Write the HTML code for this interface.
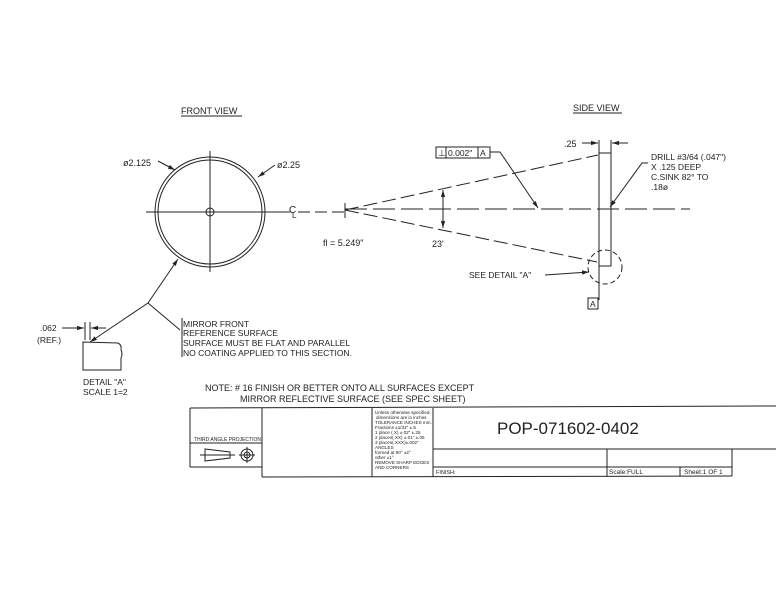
<!DOCTYPE html>
<html><head><style>
body{margin:0;background:#fff;}
svg text{font-family:"Liberation Sans",sans-serif;fill:#222;}
</style></head><body>
<svg width="776" height="600" viewBox="0 0 776 600" xmlns="http://www.w3.org/2000/svg" stroke="#222" fill="none" stroke-width="1">
<defs><marker id="a" viewBox="0 0 10 10" refX="10" refY="5" markerWidth="7" markerHeight="7" orient="auto"><path d="M0,2 L10,5 L0,8 z" fill="#222" stroke="none"/></marker></defs>
<!-- Front view -->
<text x="181" y="114" font-size="9" stroke="none">FRONT VIEW</text>
<line x1="181" y1="116" x2="242" y2="116"/>
<circle cx="210" cy="212" r="55"/>
<circle cx="210" cy="212" r="52"/>
<line x1="210" y1="151" x2="210" y2="272"/>
<line x1="146" y1="212" x2="290" y2="212"/>
<circle cx="210" cy="212" r="4"/>
<line x1="298" y1="212" x2="345" y2="212" stroke-dasharray="12,5"/>
<text x="289" y="213" font-size="10" stroke="none">C</text><text x="292" y="218" font-size="8" stroke="none">L</text>
<text x="123" y="166" font-size="9" stroke="none">ø2.125</text>
<line x1="158" y1="161" x2="175" y2="170" marker-end="url(#a)"/>
<text x="277" y="168" font-size="9" stroke="none">ø2.25</text>
<line x1="275" y1="165" x2="258" y2="177" marker-end="url(#a)"/>
<!-- leader -->
<polyline points="148,303 178,259" marker-end="url(#a)"/>
<polyline points="148,303 90,342" marker-end="url(#a)"/>
<line x1="148" y1="303" x2="180" y2="330"/>
<text x="183" y="327" font-size="8.5" stroke="none">MIRROR FRONT</text>
<text x="183" y="336" font-size="8.5" stroke="none">REFERENCE SURFACE</text>
<text x="183" y="346" font-size="8.5" stroke="none">SURFACE MUST BE FLAT AND PARALLEL</text>
<text x="183" y="356" font-size="8.5" stroke="none">NO COATING APPLIED TO THIS SECTION.</text>
<line x1="182" y1="318" x2="182" y2="357"/>
<!-- detail A -->
<text x="40" y="331" font-size="8.5" stroke="none">.062</text>
<text x="37" y="343" font-size="8.5" stroke="none">(REF.)</text>
<line x1="62" y1="328" x2="84" y2="328" marker-end="url(#a)"/><line x1="106" y1="328" x2="91" y2="328" marker-end="url(#a)"/>
<line x1="85" y1="322" x2="85" y2="340"/><line x1="90" y1="322" x2="90" y2="340"/>
<path d="M83,370 L83,342 L118,343 Q122,345 121,350 Q123,354 121,358 L121,370 Z"/>
<text x="83" y="385" font-size="8.5" stroke="none">DETAIL "A"</text>
<text x="83" y="395" font-size="8.5" stroke="none">SCALE 1=2</text>
<!-- side view -->
<text x="573" y="111" font-size="9" stroke="none">SIDE VIEW</text>
<line x1="573" y1="113" x2="622" y2="113"/>
<rect x="599" y="153" width="12" height="113"/>
<line x1="599" y1="140" x2="599" y2="153"/><line x1="611" y1="140" x2="611" y2="153"/>
<line x1="599" y1="266" x2="599" y2="300"/>
<text x="564" y="147" font-size="9" stroke="none">.25</text>
<line x1="582" y1="143" x2="598" y2="143" marker-end="url(#a)"/><line x1="628" y1="143" x2="612" y2="143" marker-end="url(#a)"/>
<line x1="345" y1="203" x2="345" y2="218"/>
<line x1="345" y1="210" x2="598" y2="155" stroke-dasharray="14,5"/>
<line x1="345" y1="210" x2="597" y2="262" stroke-dasharray="14,5"/>
<line x1="345" y1="209" x2="690" y2="209" stroke-dasharray="22,6"/>
<line x1="443" y1="210" x2="443" y2="190" marker-end="url(#a)"/>
<line x1="443" y1="210" x2="443" y2="228" marker-end="url(#a)"/>
<text x="432" y="247" font-size="9" stroke="none">23'</text>
<text x="323" y="246" font-size="9" stroke="none">fl = 5.249"</text>
<rect x="436" y="147" width="10" height="11"/><rect x="446" y="147" width="32" height="11"/><rect x="478" y="147" width="12" height="11"/>
<text x="438" y="156" font-size="9" stroke="none">⊥</text>
<text x="448" y="156" font-size="8.5" stroke="none">0.002"</text>
<text x="480" y="156" font-size="8.5" stroke="none">A</text>
<polyline points="490,152 500,152 538,208" marker-end="url(#a)"/>
<circle cx="605" cy="267" r="17" stroke-dasharray="5,3"/>
<text x="469" y="278" font-size="8.5" stroke="none">SEE DETAIL "A"</text>
<line x1="545" y1="275" x2="589" y2="272" marker-end="url(#a)"/>
<rect x="588" y="298" width="10" height="11"/>
<text x="590" y="307" font-size="8.5" stroke="none">A</text>
<text x="651" y="160" font-size="8.5" stroke="none">DRILL #3/64 (.047")</text>
<text x="651" y="170" font-size="8.5" stroke="none">X .125 DEEP</text>
<text x="651" y="180" font-size="8.5" stroke="none">C.SINK 82° TO</text>
<text x="651" y="190" font-size="8.5" stroke="none">.18ø</text>
<polyline points="648,163 642,163 610,207" marker-end="url(#a)"/>
<!-- note -->
<text x="205" y="391" font-size="9" stroke="none">NOTE: # 16 FINISH OR BETTER ONTO ALL SURFACES EXCEPT</text>
<text x="240" y="402" font-size="9" stroke="none">MIRROR REFLECTIVE SURFACE (SEE SPEC SHEET)</text>
<!-- title block -->
<line x1="190" y1="408" x2="776" y2="406"/>
<line x1="190" y1="408" x2="190" y2="467"/>
<line x1="190" y1="467" x2="262" y2="467"/>
<line x1="262" y1="408" x2="262" y2="477"/>
<line x1="262" y1="477" x2="732" y2="476"/>
<line x1="372" y1="408" x2="372" y2="477"/>
<line x1="433" y1="408" x2="433" y2="477"/>
<line x1="433" y1="449" x2="776" y2="449"/>
<line x1="433" y1="467" x2="732" y2="467"/>
<line x1="607" y1="449" x2="607" y2="476"/>
<line x1="732" y1="449" x2="732" y2="476"/>
<line x1="680" y1="467" x2="680" y2="476"/>
<line x1="190" y1="443" x2="262" y2="443"/>
<text x="194" y="441" font-size="5" stroke="none">THIRD ANGLE PROJECTION</text>
<polygon points="205,449 230,452 230,458 205,461"/>
<line x1="200" y1="455" x2="235" y2="455"/>
<circle cx="247" cy="455" r="6"/><circle cx="247" cy="455" r="3"/>
<line x1="239" y1="455" x2="255" y2="455"/><line x1="247" y1="447" x2="247" y2="463"/>
<g font-size="4.6" stroke="none">
<text x="375" y="414">Unless otherwise specified,</text>
<text x="376" y="419">dimensions are in inches</text>
<text x="375" y="424">TOLERANCE   INCHES  mm.</text>
<text x="375" y="429">Fractions    ±1/32"   ±.5</text>
<text x="375" y="434">1 place (.X)  ±.02"   ±.25</text>
<text x="375" y="439">2 places(.XX) ±.01"   ±.05</text>
<text x="375" y="444">3 places(.XXX)±.002"</text>
<text x="375" y="449">ANGLES</text>
<text x="375" y="454">formed at 90° ±2°</text>
<text x="375" y="459">other        ±1°</text>
<text x="375" y="464">REMOVE SHARP EDGES</text>
<text x="375" y="469">AND CORNERS</text>
</g>
<text x="497" y="434" font-size="17" stroke="none">POP-071602-0402</text>
<text x="436" y="474" font-size="5.5" stroke="none">FINISH:</text>
<text x="609" y="474" font-size="6.5" stroke="none">Scale:FULL</text>
<text x="684" y="474" font-size="6.5" stroke="none">Sheet:1 OF 1</text>
</svg>
</body></html>
